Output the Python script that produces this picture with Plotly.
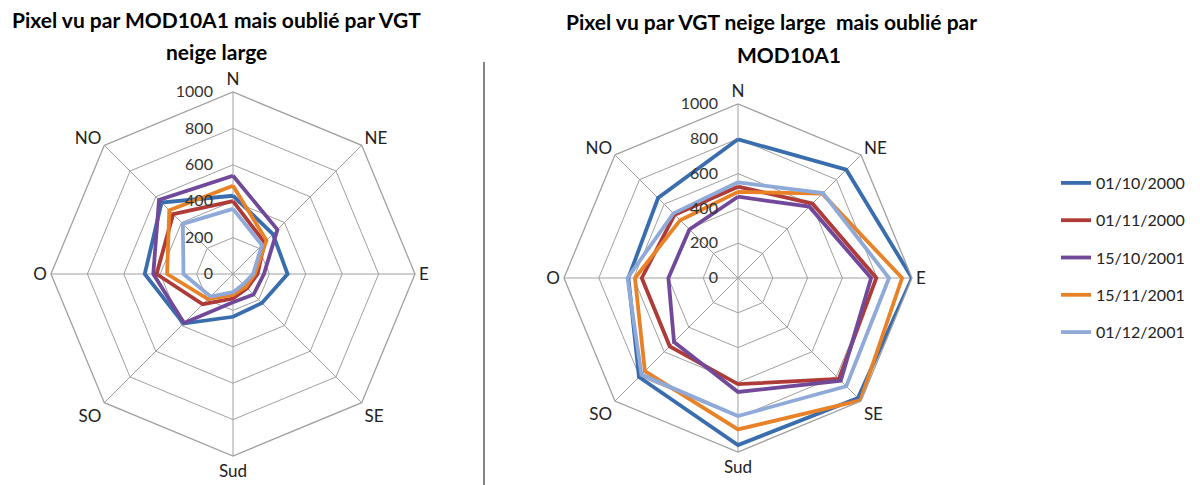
import plotly.graph_objects as go

directions = ["N", "NE", "E", "SE", "Sud", "SO", "O", "NO"]
dates = ["01/10/2000", "01/11/2000", "15/10/2001", "15/11/2001", "01/12/2001"]
colors = ["#3A6DAE", "#AE3B38", "#71499A", "#E98226", "#8FA9D8"]

# Left: Pixel vu par MOD10A1 mais oublié par VGT neige large
left_0110_2000 = [430, 310, 300, 225, 235, 385, 485, 555]
left_0111_2000 = [400, 245, 135, 110, 135, 235, 420, 465]
left_1510_2001 = [540, 345, 170, 160, 155, 380, 438, 575]
left_1511_2001 = [485, 260, 120, 100, 115, 195, 362, 495]
left_0112_2001 = [358, 225, 110, 80, 100, 175, 272, 390]

# Right: Pixel vu par VGT neige large mais oublié par MOD10A1
right_0110_2000 = [797, 880, 1000, 975, 960, 805, 630, 650]
right_0111_2000 = [525, 605, 795, 820, 610, 555, 553, 515]
right_1510_2001 = [467, 580, 765, 835, 655, 520, 400, 395]
right_1511_2001 = [495, 685, 943, 995, 870, 757, 592, 470]
right_0112_2001 = [550, 690, 868, 880, 793, 785, 635, 525]

left_series = [left_0110_2000, left_0111_2000, left_1510_2001, left_1511_2001, left_0112_2001]
right_series = [right_0110_2000, right_0111_2000, right_1510_2001, right_1511_2001, right_0112_2001]

radial_ticks = [0, 200, 400, 600, 800, 1000]

FONT = "Lato, 'Open Sans', sans-serif"
fig = go.Figure()

for i, (name, vals) in enumerate(zip(dates, left_series)):
    fig.add_trace(go.Scatterpolar(
        r=vals + [vals[0]], theta=directions + [directions[0]],
        mode="lines", name=name, subplot="polar",
        line=dict(color=colors[i], width=3.8), showlegend=False,
        legendgroup=name))

for i, (name, vals) in enumerate(zip(dates, right_series)):
    fig.add_trace(go.Scatterpolar(
        r=vals + [vals[0]], theta=directions + [directions[0]],
        mode="lines", name=name, subplot="polar2",
        line=dict(color=colors[i], width=3.8), showlegend=True,
        legendgroup=name))

# page body has an 8px margin: work in screen pixels and convert
OX, OY = 8, 8
W, H = 1200 - OX, 485 - OY

def px(x):
    return (x - OX) / W

def py(y):
    return 1 - (y - OY) / H

def polar_layout(cx, cy, R):
    return dict(
        domain=dict(x=[px(cx - R), px(cx + R)],
                    y=[py(cy + R), py(cy - R)]),
        gridshape="linear",
        bgcolor="rgba(0,0,0,0)",
        radialaxis=dict(range=[0, 1000], tickvals=radial_ticks,
                        ticktext=[str(v) for v in radial_ticks],
                        angle=90, tickangle=90, side="counterclockwise",
                        showline=False, ticks="outside", ticklen=14,
                        tickcolor="rgba(0,0,0,0)",
                        gridcolor="#A0A0A0", gridwidth=1.3,
                        tickfont=dict(family=FONT, size=16, color="#333333")),
        angularaxis=dict(categoryarray=directions, categoryorder="array",
                         direction="clockwise", rotation=90,
                         showline=True, linecolor="#A0A0A0", linewidth=1.3,
                         gridcolor="#A0A0A0", gridwidth=1.3, ticks="",
                         tickfont=dict(family=FONT, size=17, color="#222222")),
    )

fig.update_layout(
    width=W, height=H,
    margin=dict(l=0, r=0, t=0, b=0),
    paper_bgcolor="white", plot_bgcolor="white",
    polar=polar_layout(233, 274, 182),
    polar2=polar_layout(738, 278, 174),
    legend=dict(x=px(1056), y=py(166), xanchor="left", yanchor="top",
                font=dict(family=FONT, size=16, color="#222222"),
                traceorder="grouped", tracegroupgap=13.5,
                bgcolor="rgba(0,0,0,0)"),
    showlegend=True,
)

title_font = dict(family=FONT, size=21, color="#000000")
annos = [
    ("<b>Pixel vu par MOD10A1 mais oublié par VGT</b>", 216, 20),
    ("<b>neige large</b>", 216, 51),
    ("<b>Pixel vu par VGT neige large  mais oublié par</b>", 771, 22),
    ("<b>MOD10A1</b>", 789, 54),
]
for text, x, y in annos:
    fig.add_annotation(text=text, x=px(x), y=py(y), xref="paper", yref="paper",
                       xanchor="center", yanchor="middle", showarrow=False,
                       font=title_font)

fig.add_shape(type="line", xref="paper", yref="paper",
              x0=px(484), x1=px(484), y0=0, y1=py(62),
              line=dict(color="#333333", width=1.2))

fig.write_html("out.html")
